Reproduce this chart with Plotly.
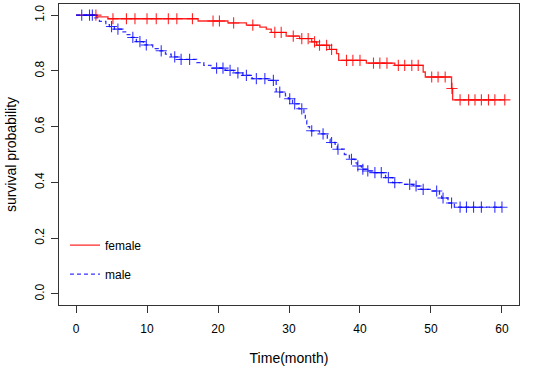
import numpy as np
import plotly.graph_objects as go

# ---- data ----
female_event_t = [2.9, 4.5, 17.2, 21.4, 24.0, 25.9, 26.8, 27.5, 29.6, 31.5, 33.2, 33.9,
                  35.7, 36.7, 37.0, 40.9, 44.9, 48.9, 49.2, 52.9, 53.05]
female_event_s = [0.994, 0.987, 0.979, 0.972, 0.964, 0.957, 0.950, 0.938, 0.925, 0.916, 0.904, 0.892,
                  0.877, 0.862, 0.838, 0.828, 0.820, 0.796, 0.778, 0.737, 0.696]
female_censor_t = [2.8, 5.2, 7.1, 8.3, 10.0, 11.3, 13.0, 14.2, 16.4, 19.3, 20.2, 22.2,
                   24.9, 28.0, 28.9, 30.6, 31.8, 32.7, 33.6, 34.3, 35.3, 36.0,
                   38.1, 39.0, 40.0, 41.9, 42.8, 43.8, 45.4, 46.3, 47.3, 48.2,
                   50.1, 51.0, 52.0, 52.95, 54.1, 55.3, 56.2, 57.1, 58.1, 59.0, 60.4]

male_event_t = [2.5, 3.3, 4.2, 4.7, 5.4, 6.5, 7.2, 7.8, 8.5, 9.5, 10.8, 11.6, 12.6, 13.4, 14.4,
                17.0, 18.0, 19.0, 21.0, 22.2, 23.5, 24.8, 27.2, 28.2, 29.5, 29.9, 30.5,
                31.4, 32.1, 32.3, 32.5, 32.9, 34.3, 35.4, 35.8, 36.5, 36.8, 37.8, 38.5,
                39.3, 39.6, 40.2, 40.9, 41.7, 43.6, 44.6, 46.0, 47.5, 48.6, 50.0, 51.2,
                51.5, 52.4, 53.3]
male_event_s = [0.990, 0.978, 0.966, 0.959, 0.950, 0.940, 0.930, 0.920, 0.905, 0.893, 0.880, 0.872,
                0.860, 0.850, 0.841, 0.830, 0.820, 0.810, 0.802, 0.793, 0.784, 0.772, 0.766,
                0.724, 0.710, 0.700, 0.682, 0.664, 0.640, 0.622, 0.600, 0.585, 0.574, 0.555,
                0.543, 0.530, 0.519, 0.500, 0.483, 0.470, 0.459, 0.447, 0.441, 0.435, 0.417,
                0.399, 0.393, 0.387, 0.375, 0.369, 0.355, 0.344, 0.326, 0.311]
male_censor_t = [0.8, 1.9, 2.3, 5.0, 5.9, 8.0, 9.0, 9.9, 12.0, 13.9, 14.8, 16.0, 19.8, 20.7,
                 21.7, 22.8, 24.0, 25.4, 26.6, 27.8, 28.7, 30.1, 30.8, 31.8, 33.2, 34.8,
                 36.0, 36.9, 38.8, 39.7, 40.4, 41.1, 42.1, 43.0, 44.0, 44.9, 47.0, 47.9,
                 48.9, 50.8, 51.7, 52.9, 54.1, 55.0, 56.0, 57.1, 59.0, 60.0]

x_ticks = [0, 10, 20, 30, 40, 50, 60]
y_ticks = [0.0, 0.2, 0.4, 0.6, 0.8, 1.0]

RED = "rgba(255,0,0,0.85)"
BLUE = "rgba(0,0,255,0.8)"


def step_path(ev_t, ev_s, cens_t):
    end = max(max(cens_t), max(ev_t))
    xs = [0.0] + list(ev_t) + [end]
    ys = [1.0] + list(ev_s) + [ev_s[-1]]
    return xs, ys


def censor_y(ev_t, ev_s, cens_t):
    et = np.array(ev_t)
    es = np.concatenate([[1.0], np.array(ev_s)])
    idx = np.searchsorted(et, np.array(cens_t), side="right")
    return es[idx]


fig = go.Figure()

fx, fy = step_path(female_event_t, female_event_s, female_censor_t)
mx, my = step_path(male_event_t, male_event_s, male_censor_t)

fig.add_trace(go.Scatter(x=fx, y=fy, mode="lines", line=dict(color=RED, width=1.3, shape="hv"),
                         name="female", legendgroup="f"))
fig.add_trace(go.Scatter(x=mx, y=my, mode="lines",
                         line=dict(color=BLUE, width=1.3, shape="hv", dash="4px,3px"),
                         name="male", legendgroup="m"))
fig.add_trace(go.Scatter(x=female_censor_t,
                         y=censor_y(female_event_t, female_event_s, female_censor_t),
                         mode="markers", showlegend=False,
                         marker=dict(symbol="cross-thin", size=8, line=dict(color=RED, width=1.1))))
fig.add_trace(go.Scatter(x=male_censor_t,
                         y=censor_y(male_event_t, male_event_s, male_censor_t),
                         mode="markers", showlegend=False,
                         marker=dict(symbol="cross-thin", size=8, line=dict(color=BLUE, width=1.1))))

font = dict(family="Liberation Sans, Arial, sans-serif", size=12, color="#000000")
fig.update_layout(
    width=536, height=368,
    margin=dict(l=59, r=17, t=4, b=63),
    paper_bgcolor="white", plot_bgcolor="white",
    font=font,
    legend=dict(x=0.013, y=0.247, xanchor="left", yanchor="top", bgcolor="rgba(0,0,0,0)",
                traceorder="grouped", tracegroupgap=10, font=font),
    xaxis=dict(range=[-2.4, 62.4], tickvals=x_ticks, ticks="outside", ticklen=7, tickcolor="#333",
               showline=True, linecolor="#333", linewidth=1, mirror=True, showgrid=False,
               zeroline=False, automargin=False, ticklabelstandoff=6,
               title=dict(text="Time(month)", standoff=17)),
    yaxis=dict(range=[-0.04, 1.04], tickvals=y_ticks, tickformat=".1f", tickangle=-90,
               ticks="outside", ticklen=7, tickcolor="#333",
               showline=True, linecolor="#333", linewidth=1, mirror=True, showgrid=False,
               zeroline=False, automargin=False, ticklabelstandoff=2,
               title=dict(text="survival probability", standoff=13)),
)

fig.write_html("out.html", config={"displayModeBar": False},
               post_script="document.body.style.margin='0px';")
